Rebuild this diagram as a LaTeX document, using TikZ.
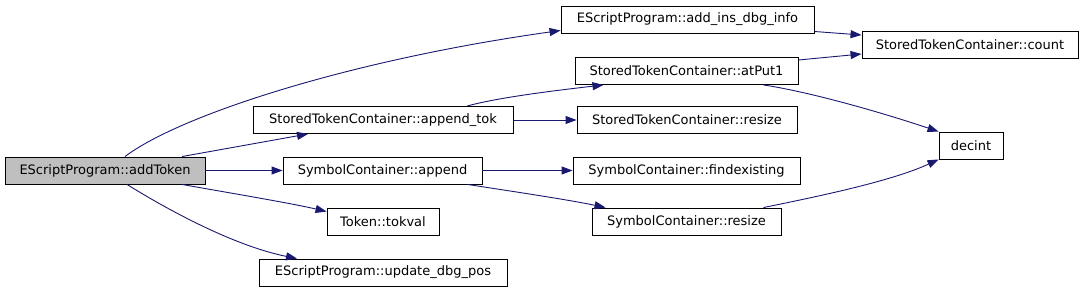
\documentclass[tikz,border=0pt]{standalone}
\usepackage{fontspec}
\setmainfont{DejaVu Sans}
\usetikzlibrary{arrows.meta}
\definecolor{edgeblue}{HTML}{191970}
\definecolor{hlgray}{HTML}{BFBFBF}
\begin{document}
\begin{tikzpicture}[x=1pt,y=-1pt,
  fn/.style={draw=black,line width=0.9pt,inner sep=0pt,minimum height=27pt,
    font=\fontsize{13}{15}\selectfont,anchor=center,fill=white},
  cur/.style={fn,fill=hlgray},
  call/.style={draw=edgeblue,line width=0.9pt,-{Triangle[length=11pt,width=8pt]}}]
\useasboundingbox (0,0) rectangle (1085,291);
\node[cur,minimum width=200pt] (addToken) at (105,170.5) {EScriptProgram::addToken};
\node[fn,minimum width=253pt] (addins) at (687.5,19.5) {EScriptProgram::add\_ins\_dbg\_info};
\node[fn,minimum width=216pt] (count) at (970,45) {StoredTokenContainer::count};
\node[fn,minimum width=223pt] (atput) at (686.5,71) {StoredTokenContainer::atPut1};
\node[fn,minimum width=260pt] (appendtok) at (383,120) {StoredTokenContainer::append\_tok};
\node[fn,minimum width=220pt] (sresize) at (687,120) {StoredTokenContainer::resize};
\node[fn,minimum width=64pt] (decint) at (971,145.5) {decint};
\node[fn,minimum width=199pt] (symappend) at (382.5,170.5) {SymbolContainer::append};
\node[fn,minimum width=227pt] (findex) at (686.5,170.5) {SymbolContainer::findexisting};
\node[fn,minimum width=189pt] (symresize) at (686.5,221.5) {SymbolContainer::resize};
\node[fn,minimum width=112pt] (tokval) at (383,221.5) {Token::tokval};
\node[fn,minimum width=248pt] (update) at (383,272.5) {EScriptProgram::update\_dbg\_pos};

\draw[call] ([xshift=20pt]addToken.north) .. controls (180,115) and (350,60) .. ([yshift=-11pt]addins.west);
\draw[call] ([xshift=77pt]addToken.north) -- ([xshift=-75pt]appendtok.south);
\draw[call] (addToken.east) -- (symappend.west);
\draw[call] ([xshift=77pt]addToken.south) .. controls (230,193) and (290,203) .. ([yshift=10pt]tokval.west);
\draw[call] ([xshift=22pt]addToken.south) .. controls (160,205) and (230,245) .. ([xshift=-86pt]update.north);
\draw[call] ([xshift=84pt]appendtok.north) .. controls (500,97) and (560,90) .. ([xshift=-83pt]atput.south);
\draw[call] (appendtok.east) -- (sresize.west);
\draw[call] ([yshift=-12pt]addins.east) -- ([yshift=10pt]count.west);
\draw[call] ([yshift=11pt]atput.east) -- ([yshift=-9pt]count.west);
\draw[call] ([xshift=77pt]atput.south) .. controls (810,92) and (880,112) .. (decint.north west);
\draw[call] (symappend.east) -- (findex.west);
\draw[call] ([xshift=85pt]symappend.south) .. controls (510,191) and (570,200) .. ([xshift=-81pt]symresize.north);
\draw[call] ([xshift=77pt]symresize.north) .. controls (810,198) and (890,182) .. (decint.south west);
\end{tikzpicture}
\end{document}
